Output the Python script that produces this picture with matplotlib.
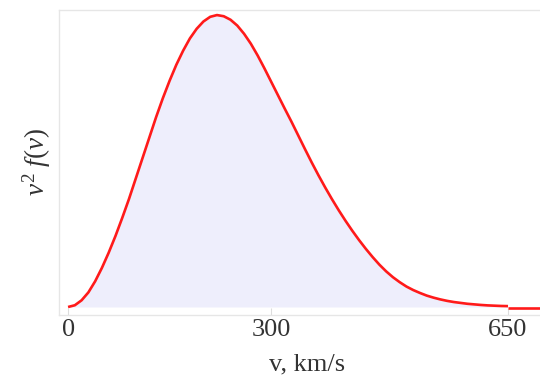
import matplotlib
matplotlib.use("Agg")
import matplotlib.pyplot as plt

# speed values (km/s) and relative v^2 f(v)
v = [0, 10, 20, 30, 40, 50, 60, 70, 80, 90, 100, 110, 120, 130, 140, 150,
     160, 170, 180, 190, 200, 210, 220, 230, 240, 250, 260, 270, 280, 290,
     300, 310, 320, 330, 340, 350, 360, 370, 380, 390, 400, 410, 420, 430,
     440, 450, 460, 470, 480, 490, 500, 510, 520, 530, 540, 550, 560, 570,
     580, 590, 600, 610, 620, 630, 640, 650]
f = [0.0, 0.006, 0.023, 0.05, 0.088, 0.134, 0.186, 0.243, 0.305, 0.37, 0.44,
     0.51, 0.58, 0.65, 0.715, 0.775, 0.83, 0.878, 0.92, 0.953, 0.978, 0.994,
     1.0, 0.996, 0.984, 0.964, 0.936, 0.902, 0.862, 0.818, 0.772, 0.726,
     0.68, 0.635, 0.588, 0.541, 0.495, 0.451, 0.409, 0.369, 0.331, 0.295,
     0.261, 0.229, 0.199, 0.171, 0.145, 0.122, 0.102, 0.085, 0.07, 0.058,
     0.048, 0.039, 0.032, 0.026, 0.021, 0.017, 0.014, 0.011, 0.009, 0.007,
     0.0055, 0.0045, 0.0035, 0.003]
tail_v = [650, 730]
tail_f = [-0.002, -0.002]
xticks = [0, 300, 650]
xtick_labels = ["0", "300", "650"]

plt.rcParams['mathtext.fontset'] = 'custom'
plt.rcParams['mathtext.rm'] = 'Liberation Serif'
plt.rcParams['mathtext.it'] = 'Liberation Serif:italic'

fig = plt.figure(figsize=(5.4, 3.82), dpi=100)
ax = fig.add_axes([0.1085, 0.1767, 0.92, 0.798])

ax.fill_between(v, f, 0, color='#eeeefc', lw=0)
ax.plot(v, f, color='#ff1a1a', lw=1.9, solid_capstyle='butt', solid_joinstyle='round')
ax.plot(tail_v, tail_f, color='#ff1a1a', lw=1.9, solid_capstyle='butt')

ax.set_xlim(-14, 720)
ax.set_ylim(-0.0257, 1.0185)
ax.set_xticks(xticks)
ax.set_xticklabels(xtick_labels, family='Liberation Serif', fontsize=19, color='#333333')
ax.set_yticks([])
ax.tick_params(axis='x', direction='in', length=5, color='#dddddd', pad=3.5)

for s in ['left', 'top', 'bottom']:
    ax.spines[s].set_color('#e6e6e6')
    ax.spines[s].set_linewidth(1.0)
ax.spines['right'].set_visible(False)

ax.set_xlabel('v, km/s', family='Liberation Serif', fontsize=19, color='#333333', labelpad=9)
ax.set_ylabel(r'$v^2\ f(v)$', fontsize=19.5, color='#333333', labelpad=4)

fig.savefig('out.png', dpi=100)
